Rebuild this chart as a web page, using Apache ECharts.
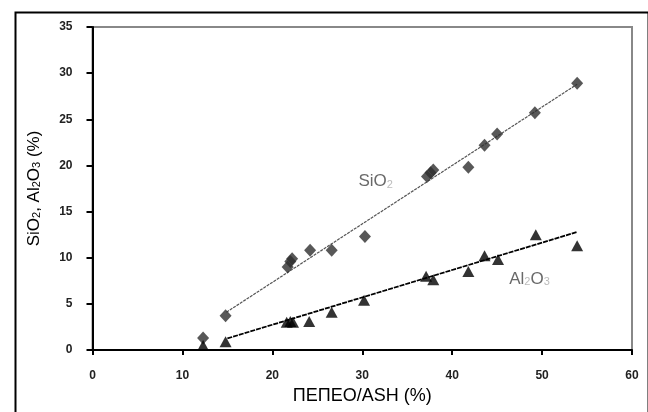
<!DOCTYPE html>
<html>
<head>
<meta charset="utf-8">
<script src="https://cdn.jsdelivr.net/npm/echarts@6.0.0/dist/echarts.min.js"></script>
<style>
  html, body { margin: 0; padding: 0; background: #fff; }
  #chart { width: 648px; height: 412px; }
</style>
</head>
<body>
<div id="chart"></div>
<script>
// ΠΕΠΕΟ/ASH (%) vs SiO2 / Al2O3 (%)
const siO2Points = [
  [12.3, 1.3], [14.8, 3.7], [21.7, 9.0], [22.0, 9.6], [22.2, 9.9],
  [24.2, 10.8], [26.6, 10.8], [30.3, 12.3], [37.2, 18.8], [37.6, 19.2],
  [37.9, 19.5], [41.8, 19.8], [43.6, 22.2], [45.0, 23.4], [49.2, 25.7],
  [53.9, 28.9]
];
const al2O3Points = [
  [12.3, 0.5], [14.8, 0.9], [21.6, 3.0], [22.0, 3.1], [22.3, 3.0],
  [24.1, 3.1], [26.6, 4.1], [30.2, 5.4], [37.1, 8.0], [37.9, 7.6],
  [41.8, 8.5], [43.6, 10.2], [45.1, 9.8], [49.3, 12.5], [53.9, 11.3]
];
const siO2Trend = [[14.9, 4.1], [53.9, 28.8]];
const al2O3Trend = [[15.0, 1.25], [53.9, 12.8]];
const seriesLabels = [
  { name: 'SiO2', value: [31.5, 18.3], text: 'SiO{s|2}' },
  { name: 'Al2O3', value: [48.6, 7.7], text: 'Al{s|2}O{s|3}' }
];
const xTicks = [0, 10, 20, 30, 40, 50, 60];
const yTicks = [0, 5, 10, 15, 20, 25, 30, 35];

const chart = echarts.init(document.getElementById('chart'));

const tickFont = {
  color: '#222',
  fontFamily: 'Liberation Sans, Arial, sans-serif',
  fontWeight: 'bold',
  fontSize: 12
};

const option = {
  backgroundColor: '#fff',
  animation: false,
  graphic: [
    {
      type: 'rect',
      left: 13, top: 10,
      shape: { width: 633, height: 420 },
      style: { fill: 'none', stroke: '#000', lineWidth: 2 },
      silent: true
    }
  ],
  grid: {
    left: 92.5,
    right: 16,
    top: 27,
    bottom: 62,
    show: true,
    borderColor: '#888',
    borderWidth: 2
  },
  xAxis: {
    type: 'value',
    min: xTicks[0],
    max: xTicks[xTicks.length - 1],
    interval: 10,
    name: 'ΠΕΠΕΟ/ASH (%)',
    nameLocation: 'middle',
    nameGap: 37,
    nameTextStyle: {
      color: '#000',
      fontFamily: 'Liberation Sans, Arial, sans-serif',
      fontSize: 18
    },
    axisLine: { lineStyle: { color: '#000', width: 2 } },
    axisTick: { length: 5, lineStyle: { color: '#000', width: 2 } },
    axisLabel: Object.assign({ margin: 20 }, tickFont),
    splitLine: { show: false }
  },
  yAxis: {
    type: 'value',
    min: yTicks[0],
    max: yTicks[yTicks.length - 1],
    interval: 5,
    name: '{n|SiO}{s|2}{n|, Al}{s|2}{n|O}{s|3}{n| (%)}',
    nameLocation: 'middle',
    nameGap: 50,
    nameTextStyle: {
      rich: {
        n: { color: '#000', fontFamily: 'Liberation Sans, Arial, sans-serif', fontSize: 17 },
        s: { color: '#000', fontFamily: 'Liberation Sans, Arial, sans-serif', fontSize: 11, verticalAlign: 'bottom', padding: [6, 0, 0, 0] }
      }
    },
    axisLine: { show: true, lineStyle: { color: '#000', width: 2 } },
    axisTick: { show: true, length: 6, lineStyle: { color: '#000', width: 2 } },
    axisLabel: Object.assign({ margin: 20 }, tickFont),
    splitLine: { show: false }
  },
  series: [
    {
      name: 'SiO2 trend',
      type: 'line',
      data: siO2Trend,
      symbol: 'none',
      lineStyle: { color: '#555', width: 1.2, type: [3, 1] },
      z: 2
    },
    {
      name: 'Al2O3 trend',
      type: 'line',
      data: al2O3Trend,
      symbol: 'none',
      lineStyle: { color: '#000', width: 1.8, type: [5, 1] },
      z: 2
    },
    {
      name: 'SiO2',
      type: 'scatter',
      data: siO2Points,
      symbol: 'diamond',
      symbolSize: [12, 13],
      itemStyle: { color: '#2e2e2e' },
      z: 3
    },
    {
      name: 'Al2O3',
      type: 'scatter',
      data: al2O3Points,
      symbol: 'triangle',
      symbolSize: [12, 11],
      itemStyle: { color: '#000' },
      z: 3
    },
    {
      name: 'labels',
      type: 'scatter',
      symbolSize: 0,
      data: seriesLabels.map(d => ({ name: d.name, value: d.value, text: d.text })),
      label: {
        show: true,
        position: 'inside',
        formatter: p => p.data.text,
        rich: {
          s: { color: '#aaa', fontFamily: 'Liberation Sans, Arial, sans-serif', fontSize: 11, verticalAlign: 'bottom', padding: [7, 0, 0, 0] }
        },
        color: '#444',
        fontFamily: 'Liberation Sans, Arial, sans-serif',
        fontSize: 17
      },
      silent: true,
      z: 4
    }
  ]
};

chart.setOption(option);
</script>
</body>
</html>
